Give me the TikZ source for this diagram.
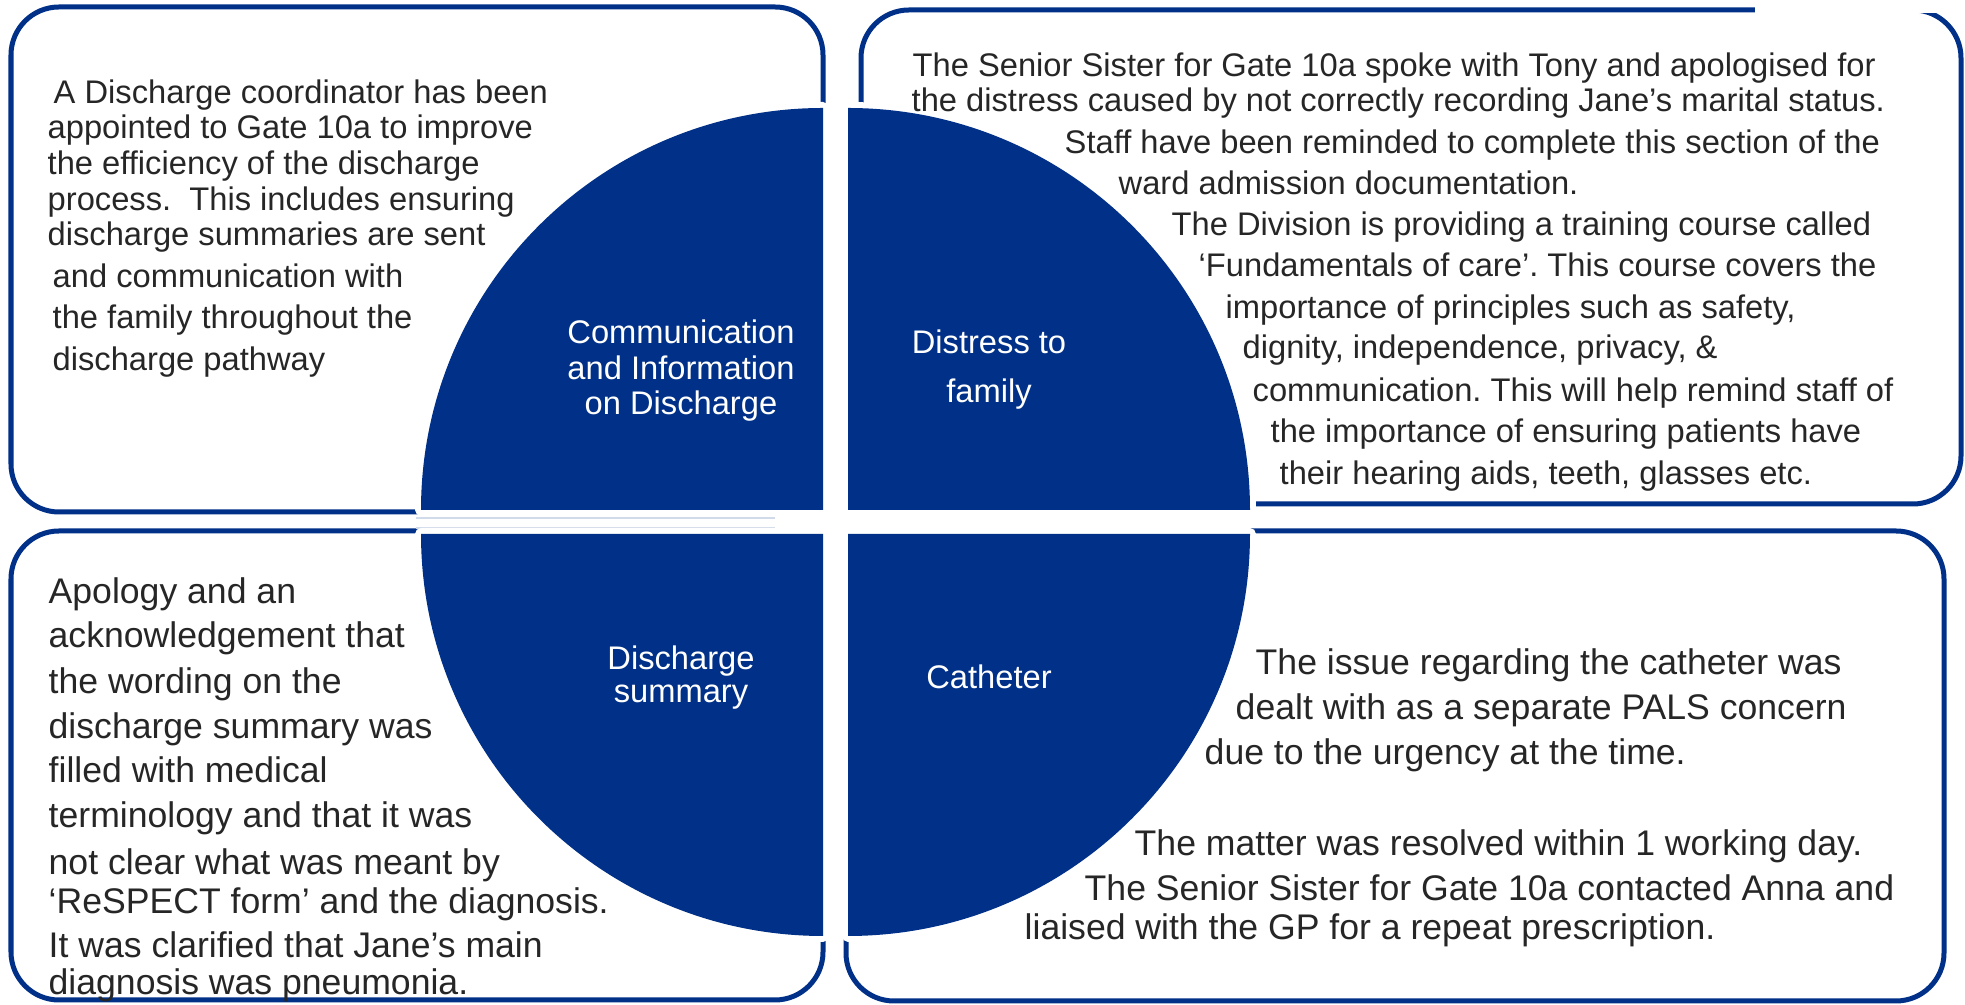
\documentclass[tikz,border=0pt]{standalone}
\usepackage{fontspec}
\setmainfont{Liberation Sans}
\definecolor{nhsblue}{RGB}{0,48,135}
\definecolor{bodygrey}{RGB}{38,38,38}
\frenchspacing

\begin{document}
\begin{tikzpicture}[
    panel/.style={draw=nhsblue, line width=0.05cm, rounded corners=0.48cm},
    quarter/.style={fill=nhsblue, preaction={draw=white, line width=0.12cm, line join=round}},
    bodytxt/.style={anchor=base west, inner sep=0pt, text=bodygrey, font=\fontsize{9.3}{11}\selectfont},
    bodybig/.style={bodytxt, font=\fontsize{10.13}{12}\selectfont},
    quadtxt/.style={anchor=base, inner sep=0pt, text=white, font=\fontsize{9.3}{11}\selectfont}
]
                        \useasboundingbox (0,0) rectangle (19.65,10.05);
                        % corners of the four quarters
                        \coordinate (ctl) at (8.23,4.95);
                        \coordinate (ctr) at (8.48,4.95);
                        \coordinate (cbl) at (8.23,4.71);
                        \coordinate (cbr) at (8.48,4.71);
                        % the four panels
                        \draw [panel] (0.11,4.93) rectangle (8.23,9.98);
                        \draw [panel] (8.61,5.01) rectangle (19.61,9.95);
                        \draw [panel] (0.11,0.05) rectangle (8.23,4.74);
                        \draw [panel] (8.46,0.04) rectangle (19.44,4.74);
                        \fill [white] (17.55,9.92) rectangle (19.65,10.05);
                        \draw [nhsblue!18,line width=0.4pt] (4.16,4.87)--(7.75,4.87);
                        \draw [nhsblue!18,line width=0.4pt] (4.16,4.77)--(7.75,4.77);
                        % the split circle
                        \path [quarter] (ctl) -- ++(-4.02,0) arc [start angle=180, end angle=90, radius=4.02] -- cycle;
                        \path [quarter] (ctr) -- ++(0,4.02) arc [start angle=90, end angle=0, radius=4.02] -- cycle;
                        \path [quarter] (cbl) -- ++(0,-4.02) arc [start angle=270, end angle=180, radius=4.02] -- cycle;
                        \path [quarter] (cbr) -- ++(4.02,0) arc [start angle=0, end angle=-90, radius=4.02] -- cycle;
                        \node [quadtxt] (comm1) at (6.81,6.61) {Communication};
                        \node [quadtxt] (comm2) at (6.81,6.25) {and Information};
                        \node [quadtxt] (comm3) at (6.81,5.90) {on Discharge};
                        \node [quadtxt] (dist1) at (9.89,6.51) {Distress to};
                        \node [quadtxt] (dist2) at (9.89,6.02) {family};
                        \node [quadtxt] (summ1) at (6.81,3.35) {Discharge};
                        \node [quadtxt] (summ2) at (6.81,3.02) {summary};
                        \node [quadtxt] (cath) at (9.89,3.16) {Catheter};
                        % top left text
                        \node [bodytxt] (tl1) at (0.53,9.01) {A Discharge coordinator has been};
                        \node [bodytxt] (tl2) at (0.47,8.66) {appointed to Gate 10a to improve};
                        \node [bodytxt] (tl3) at (0.47,8.30) {the efficiency of the discharge};
                        \node [bodytxt] (tl4) at (0.47,7.94) {process.~ This includes ensuring};
                        \node [bodytxt] (tl5) at (0.47,7.59) {discharge summaries are sent};
                        \node [bodytxt] (tl6) at (0.52,7.17) {and communication with};
                        \node [bodytxt] (tl7) at (0.52,6.76) {the family throughout the};
                        \node [bodytxt] (tl8) at (0.52,6.34) {discharge pathway};
                        % top right text
                        \node [bodytxt] (tr1) at (9.12,9.285) {The Senior Sister for Gate 10a spoke with Tony and apologised for};
                        \node [bodytxt] (tr2) at (9.11,8.93) {the distress caused by not correctly recording Jane’s marital status.};
                        \node [bodytxt] (tr3) at (10.64,8.51) {Staff have been reminded to complete this section of the};
                        \node [bodytxt] (tr4) at (11.18,8.10) {ward admission documentation.};
                        \node [bodytxt] (tr5) at (11.71,7.69) {The Division is providing a training course called};
                        \node [bodytxt] (tr6) at (11.98,7.28) {‘Fundamentals of care’. This course covers the};
                        \node [bodytxt] (tr7) at (12.25,6.86) {importance of principles such as safety,};
                        \node [bodytxt] (tr8) at (12.42,6.46) {dignity, independence, privacy, \&};
                        \node [bodytxt] (tr9) at (12.52,6.03) {communication. This will help remind staff of};
                        \node [bodytxt] (tr10) at (12.70,5.62) {the importance of ensuring patients have};
                        \node [bodytxt] (tr11) at (12.79,5.20) {their hearing aids, teeth, glasses etc.};
                        % bottom left text
                        \node [bodybig] (bl1) at (0.48,4.01) {Apology and an};
                        \node [bodybig] (bl2) at (0.48,3.57) {acknowledgement that};
                        \node [bodybig] (bl3) at (0.48,3.11) {the wording on the};
                        \node [bodybig] (bl4) at (0.48,2.66) {discharge summary was};
                        \node [bodybig] (bl5) at (0.48,2.22) {filled with medical};
                        \node [bodybig] (bl6) at (0.48,1.77) {terminology and that it was};
                        \node [bodybig] (bl7) at (0.48,1.30) {not clear what was meant by};
                        \node [bodybig] (bl8) at (0.48,0.91) {‘ReSPECT form’ and the diagnosis.};
                        \node [bodybig] (bl9) at (0.48,0.47) {It was clarified that Jane’s main};
                        \node [bodybig] (bl10) at (0.48,0.10) {diagnosis was pneumonia.};
                        % bottom right text
                        \node [bodybig] (br1) at (12.55,3.30) {The issue regarding the catheter was};
                        \node [bodybig] (br2) at (12.35,2.85) {dealt with as a separate PALS concern};
                        \node [bodybig] (br3) at (12.04,2.40) {due to the urgency at the time.};
                        \node [bodybig] (br4) at (11.34,1.49) {The matter was resolved within 1 working day.};
                        \node [bodybig] (br5) at (10.84,1.04) {The Senior Sister for Gate 10a contacted Anna and};
                        \node [bodybig] (br6) at (10.24,0.655) {liaised with the GP for a repeat prescription.};
                    \end{tikzpicture}
\end{document}
